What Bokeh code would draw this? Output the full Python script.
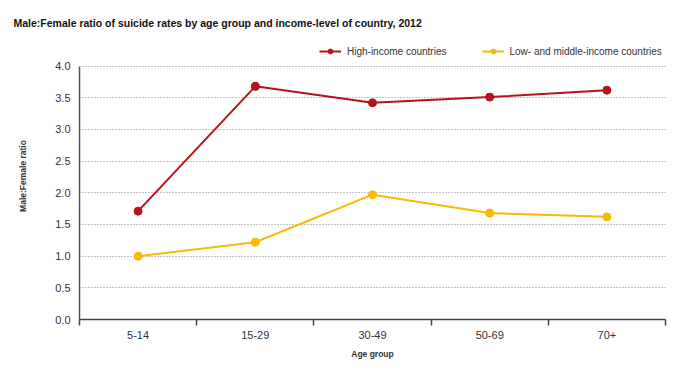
from bokeh.plotting import figure
from bokeh.models import (Range1d, FixedTicker, NumeralTickFormatter, Legend, LegendItem)
from bokeh.embed import file_html
from bokeh.resources import INLINE

age_groups = ["5-14", "15-29", "30-49", "50-69", "70+"]
high_income = [1.71, 3.68, 3.42, 3.51, 3.62]
low_middle_income = [1.00, 1.22, 1.97, 1.68, 1.62]
y_ticks = [0.0, 0.5, 1.0, 1.5, 2.0, 2.5, 3.0, 3.5, 4.0]

TITLE = "Male:Female ratio of suicide rates by age group and income-level of country, 2012"
RED = "#B5121B"
YELLOW = "#FBB900"
TEXT = "#333333"

xs = [i + 0.5 for i in range(len(age_groups))]
bounds = [float(i) for i in range(len(age_groups) + 1)]

# frame extends above 4.0 to hold the legend; axis line is bounded to 0..4
p = figure(width=690, height=377, output_backend="svg", toolbar_location=None,
           x_range=Range1d(0, len(age_groups)), y_range=Range1d(0, 4.53),
           min_border_left=79, min_border_right=25, min_border_top=32, min_border_bottom=58,
           title=TITLE)
p.outline_line_color = None

p.title.text_font = "Liberation Sans"
p.title.text_font_size = "10.5px"
p.title.text_font_style = "bold"
p.title.text_color = "#111111"
p.title.align = "left"
p.title.offset = -66
p.title.standoff = 7

r1l = p.line(xs, high_income, line_color=RED, line_width=2)
r1s = p.scatter(xs, high_income, size=8, fill_color=RED, line_color=RED)
r2l = p.line(xs, low_middle_income, line_color=YELLOW, line_width=2)
r2s = p.scatter(xs, low_middle_income, size=8, fill_color=YELLOW, line_color=YELLOW)

# axes
p.xaxis.ticker = FixedTicker(ticks=xs, minor_ticks=bounds)
p.xaxis.major_label_overrides = {x: lab for x, lab in zip(xs, age_groups)}
p.xaxis.major_tick_out = 0
p.xaxis.major_tick_in = 0
p.xaxis.minor_tick_out = 6
p.xaxis.minor_tick_in = 0
p.xaxis.minor_tick_line_color = "#444444"
p.xaxis.minor_tick_line_width = 1.5
p.xaxis.axis_line_color = "#444444"
p.xaxis.axis_line_width = 1.5
p.xaxis.axis_label = "Age group"
p.xaxis.axis_label_text_font_size = "8.5px"
p.xaxis.axis_label_text_font_style = "bold"
p.xaxis.axis_label_text_font = "Liberation Sans"
p.xaxis.axis_label_text_color = TEXT
p.xaxis.axis_label_standoff = 7
p.xaxis.major_label_text_font = "Liberation Sans"
p.xaxis.major_label_text_font_size = "11px"
p.xaxis.major_label_text_color = TEXT
p.xaxis.major_label_standoff = 5

p.yaxis.ticker = FixedTicker(ticks=y_ticks)
p.yaxis.bounds = (y_ticks[0], y_ticks[-1])
p.yaxis.formatter = NumeralTickFormatter(format="0.0")
p.yaxis.major_tick_out = 0
p.yaxis.major_tick_in = 0
p.yaxis.minor_tick_line_color = None
p.yaxis.axis_line_color = "#555555"
p.yaxis.axis_line_width = 1.5
p.yaxis.axis_label = "Male:Female ratio"
p.yaxis.axis_label_text_font_size = "8.5px"
p.yaxis.axis_label_text_font_style = "bold"
p.yaxis.axis_label_text_font = "Liberation Sans"
p.yaxis.axis_label_text_color = TEXT
p.yaxis.axis_label_standoff = 24
p.yaxis.major_label_text_font = "Liberation Sans"
p.yaxis.major_label_text_font_size = "11px"
p.yaxis.major_label_text_color = TEXT
p.yaxis.major_label_standoff = 9

p.xgrid.grid_line_color = None
p.ygrid.grid_line_color = "#888888"
p.ygrid.grid_line_dash = "1 2"
p.ygrid.grid_line_width = 1

legend = Legend(items=[LegendItem(label="High-income countries", renderers=[r1l, r1s]),
                       LegendItem(label="Low- and middle-income countries", renderers=[r2l, r2s])],
                orientation="horizontal", location=(240, 262),
                padding=0, margin=0, spacing=35, glyph_width=22, glyph_height=12,
                label_standoff=6, label_text_font="Liberation Sans",
                label_text_font_size="10px", label_text_color=TEXT,
                background_fill_alpha=0, border_line_alpha=0)
p.add_layout(legend, "center")

open("out.html", "w").write(file_html(p, INLINE))
